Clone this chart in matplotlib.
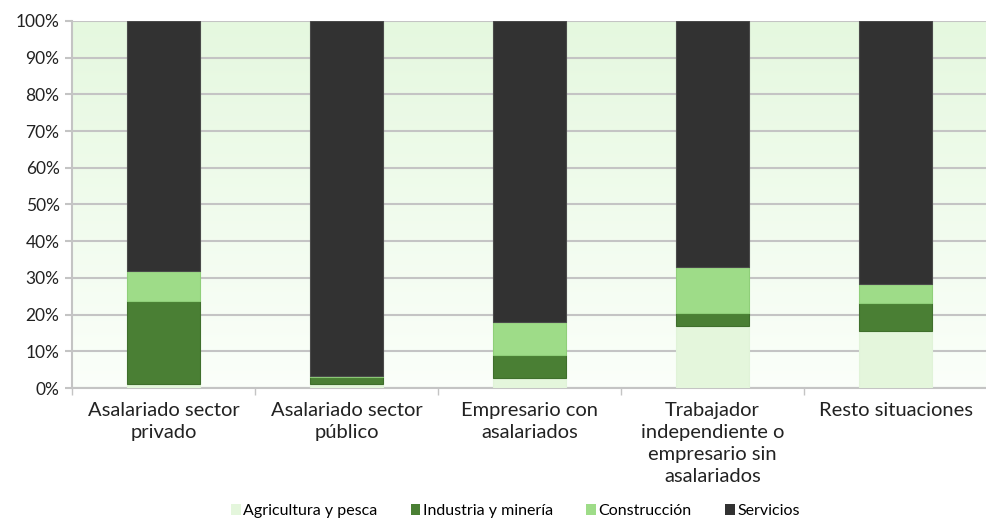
import numpy as np
import matplotlib.pyplot as plt
from matplotlib.colors import LinearSegmentedColormap
from matplotlib.patches import Patch

plt.rcParams['font.family'] = ['Lato', 'DejaVu Sans']

categories = ['Asalariado sector\nprivado', 'Asalariado sector\npúblico',
              'Empresario con\nasalariados',
              'Trabajador\nindependiente o\nempresario sin\nasalariados',
              'Resto situaciones']
series = ['Agricultura y pesca', 'Industria y minería', 'Construcción', 'Servicios']
agricultura = [1.1, 1.0, 2.7, 16.9, 15.5]
industria = [22.6, 2.0, 6.3, 3.5, 7.6]
construccion = [8.2, 0.4, 9.0, 12.7, 5.2]
servicios = [68.1, 96.6, 82.0, 66.9, 71.7]
colors = ['#e4f6dc', '#4a7f34', '#9edc88', '#323232']
edges = ['#e0f3d8', '#3f6f2c', '#8fcf79', '#4a4a4a']

fig = plt.figure(figsize=(9.87, 5.21), dpi=100)
ax = fig.add_axes([0.073, 0.255, 0.927, 0.705])

x = np.arange(len(categories))
bottom = np.zeros(len(categories))
for vals, c, ec, name in zip([agricultura, industria, construccion, servicios], colors, edges, series):
    ax.bar(x, vals, bottom=bottom, width=0.4, color=c, edgecolor=ec, linewidth=0.8, label=name, zorder=3)
    bottom += np.array(vals)

ax.set_xlim(-0.5, len(categories) - 0.5)
ax.set_ylim(0, 100)

# vertical gradient background
cmap = LinearSegmentedColormap.from_list('bg', ['#fbfffa', '#e5f8df'])
grad = np.linspace(0, 1, 256).reshape(-1, 1)
ax.imshow(grad, aspect='auto', cmap=cmap, origin='lower',
          extent=[-0.5, len(categories) - 0.5, 0, 100], zorder=0)

ax.set_yticks(range(0, 101, 10))
ax.set_yticklabels([f'{v}%' for v in range(0, 101, 10)], fontsize=12.5, color='#222222')
ax.yaxis.grid(True, color='#c4c4c4', linewidth=1.5, zorder=1)
ax.set_axisbelow(False)

ax.set_xticks(x)
ax.set_xticklabels(categories, fontsize=14.5, color='#222222', linespacing=1.35)
ax.set_xticks(np.arange(-0.5, len(categories), 1), minor=True)
ax.tick_params(axis='x', which='major', length=0, pad=10)
ax.tick_params(axis='x', which='minor', length=5, color='#c4c4c4', width=1)
ax.tick_params(axis='y', length=5, color='#c4c4c4', width=1.5, pad=4)

for s in ['top', 'right']:
    ax.spines[s].set_visible(False)
for s in ['left', 'bottom']:
    ax.spines[s].set_color('#c4c4c4')
    ax.spines[s].set_linewidth(1.5)

handles = [Patch(facecolor=c, edgecolor='none', label=n) for c, n in zip(colors, series)]
fig.legend(handles=handles, loc='lower center', bbox_to_anchor=(0.522, -0.022), ncol=4,
           frameon=False, fontsize=11.5, handlelength=0.6, handleheight=0.6,
           handletextpad=0.15, columnspacing=2.1)

fig.savefig('out.png', dpi=100)
